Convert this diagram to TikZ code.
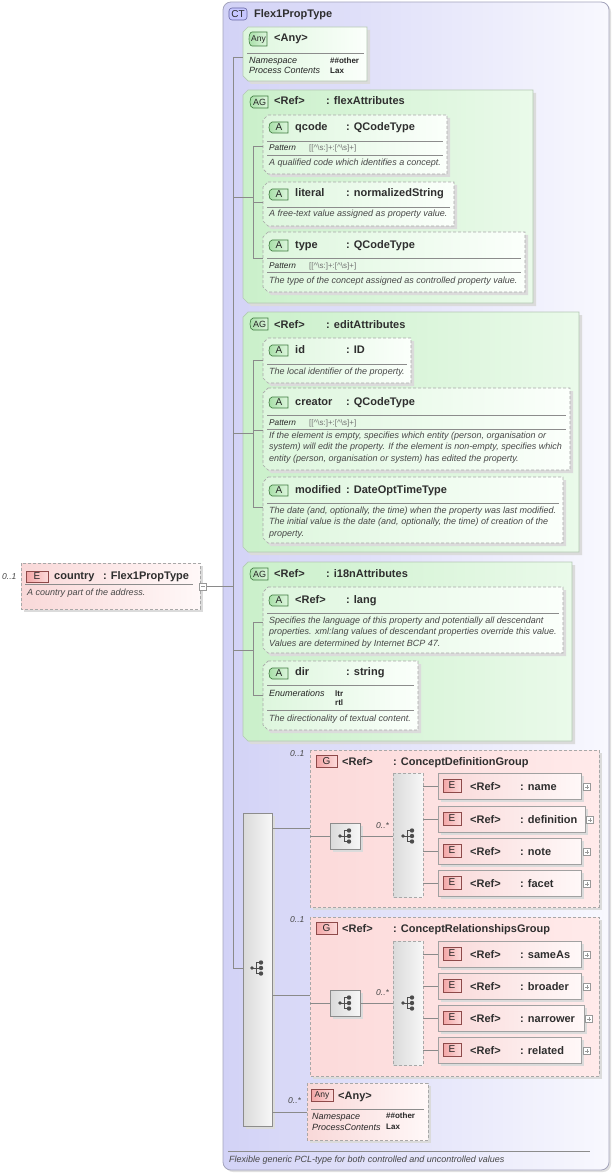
\documentclass[tikz,border=0pt]{standalone}
\usepackage{fontspec}
\setmainfont{Liberation Sans}
\definecolor{ctL}{HTML}{D2D2F6}
\definecolor{ctR}{HTML}{F8F8FE}
\definecolor{ctB}{HTML}{A4A4BC}
\definecolor{agL}{HTML}{CAF0CA}
\definecolor{agR}{HTML}{EAFAEA}
\definecolor{agB}{HTML}{B4C8B4}
\definecolor{atL}{HTML}{DDF6DD}
\definecolor{atR}{HTML}{FBFFFB}
\definecolor{dashB}{HTML}{A8A8A8}
\definecolor{grL}{HTML}{FCDADA}
\definecolor{grR}{HTML}{FFEAEA}
\definecolor{elL}{HTML}{F9D8D8}
\definecolor{elR}{HTML}{FFF8F8}
\definecolor{bdE}{HTML}{F3A6A6}
\definecolor{bdE2}{HTML}{FCDADA}
\definecolor{bdEB}{HTML}{8E4A4A}
\definecolor{bdA}{HTML}{A6DEA6}
\definecolor{bdA2}{HTML}{DDF6DD}
\definecolor{bdAB}{HTML}{3E7A3E}
\definecolor{sqL}{HTML}{DADADA}
\definecolor{sqR}{HTML}{F7F7F7}
\definecolor{lineC}{HTML}{8A8A8A}
\newcounter{tc}
\newcommand\tx[4]{\stepcounter{tc}\edef\tn{tx\arabic{tc}}\node[#1] (\tn) at (#2,#3) {#4};}
\newcommand\chamf[6]{%
 \fill[shd] (#2+8,#3+3) -- (#4+3,#3+3) -- (#4+3,#5+3) -- (#2+8,#5+3) -- (#2+3,#5-2) -- (#2+3,#3+8) -- cycle;
 \path[#6] (#2+5,#3) -- (#4,#3) -- (#4,#5) -- (#2+5,#5) -- (#2,#5-5) -- (#2,#3+5) -- cycle;
 \coordinate (#1) at (#2,#3);}
\newcommand\rbox[6]{%
 \fill[shd] (#2+3,#3+3) rectangle (#4+3,#5+3);
 \path[#6] (#2,#3) rectangle (#4,#5);
 \coordinate (#1) at (#2,#3);}
\newcommand\tabbadge[7]{%
 \path[#6] (#2+4,#3) -- (#4,#3) -- (#4,#5) -- (#2+4,#5) .. controls (#2,#5) and (#2,#3) .. (#2+4,#3) -- cycle;
 \node[bdg] (#1) at ({(#2+#4)/2+1},{(#3+#5)/2}) {#7};}
\newcommand\rectbadge[7]{%
 \path[#6] (#2,#3) rectangle (#4,#5);
 \node[bdg] (#1) at ({(#2+#4)/2},{(#3+#5)/2}) {#7};}
\newcommand\seqicon[3]{%
 \coordinate (#1) at (#2,#3);
 \draw[icon] (#2-6,#3) -- (#2-2,#3) (#2-2,#3-5.5) -- (#2-2,#3+5.5) (#2-2,#3-5.5) -- (#2+3,#3-5.5) (#2-2,#3) -- (#2+3,#3) (#2-2,#3+5.5) -- (#2+3,#3+5.5);
 \fill[icon] (#2-6,#3) circle (1.9) (#2+3,#3-5.5) circle (2.2) (#2+3,#3) circle (2.2) (#2+3,#3+5.5) circle (2.2);}
\newcommand\plusbox[3]{%
 \draw[pb, fill=white] (#2-3.5,#3-3.5) rectangle (#2+3.5,#3+3.5);
 \draw[pb] (#2-2,#3) -- (#2+2,#3) (#2,#3-2) -- (#2,#3+2);
 \coordinate (#1) at (#2,#3);}
% element box: name, y1, x2, label, plus x
\newcommand\elem[5]{%
 \rbox{#1}{438}{#2}{#3}{#2+26}{draw=lineC!80, line width=0.7pt, left color=elL, right color=elR}
 \rectbadge{#1b}{443}{#2+6}{461}{#2+19}{ebdg}{E}
 \tx{ttl}{470}{#2+17}{<Ref>}
 \tx{ttl}{520}{#2+17}{#4}
 \plusbox{#1p}{#5}{#2+14}}
\newcommand\attrbadge[3]{\tabbadge{#1}{268}{#2}{288}{#2+11}{abdg}{#3}}
\newcommand\pt{[[\textasciicircum\textbackslash s:]+:[\textasciicircum\textbackslash s]+]}
\begin{document}
\begin{tikzpicture}[x=1pt,y=-1pt,
 ttl/.style={font=\fontsize{11}{13}\selectfont\bfseries, text=black!82, anchor=base west, inner sep=0pt},
 dsc/.style={font=\fontsize{9}{11}\selectfont\itshape, text=black!72, anchor=base west, inner sep=0pt},
 lbl/.style={font=\fontsize{9}{11}\selectfont\itshape, text=black!85, anchor=base west, inner sep=0pt},
 plbl/.style={font=\fontsize{8.3}{10}\selectfont\itshape, text=black!85, anchor=base west, inner sep=0pt},
 val/.style={font=\fontsize{8}{10}\selectfont\bfseries, text=black!85, anchor=base west, inner sep=0pt},
 pat/.style={font=\fontsize{8}{10}\selectfont, text=black!55, anchor=base west, inner sep=0pt},
 mult/.style={font=\fontsize{8.5}{10}\selectfont\itshape, text=black!72, anchor=base west, inner sep=0pt},
 bdg/.style={font=\fontsize{10}{12}\selectfont, text=black!85, inner sep=0pt, anchor=center},
 conn/.style={draw=lineC, line width=0.7pt},
 sepl/.style={draw=black!45, line width=0.6pt},
 shd/.style={black!14},
 icon/.style={black!70, line width=0.8pt},
 pb/.style={draw=black!40, line width=0.5pt},
 dsh/.style={dash pattern=on 3pt off 2pt},
 agbox/.style={draw=agB, line width=0.7pt, left color=agL, right color=agR},
 atbox/.style={draw=dashB, line width=0.7pt, dsh, left color=atL, right color=atR},
 ebdg/.style={draw=bdEB, line width=0.6pt, left color=bdE, right color=bdE2},
 abdg/.style={draw=bdAB, line width=0.6pt, left color=bdA, right color=bdA2},
 seqbox/.style={draw=black!45, line width=0.7pt, left color=sqL, right color=sqR},
]
\useasboundingbox (0,0) rectangle (614,1174);
% ---------- complex type frame
\fill[black!12, rounded corners=8] (225,4) rectangle (611,1172);
\path[draw=ctB, line width=0.8pt, rounded corners=8, left color=ctL, right color=ctR] (223,2) rectangle (609,1170);
\coordinate (ct) at (223,2);
\path[draw=black!60!blue!60, line width=0.6pt, fill=blue!22, rounded corners=3] (229,8) rectangle (247,20);
\node[bdg] (ctb) at (238,14) {CT};
\tx{ttl}{254}{18}{Flex1PropType}
% ---------- connectors (trunk)
\coordinate (tr0) at (233,57);
\coordinate (tr1) at (233,968);
\draw[conn] (tr0) -- (tr1);
% ---------- Any (green)
\chamf{anyg}{243}{27}{367}{81}{draw=agB, line width=0.7pt, left color=atL, right color=atR}
\tabbadge{anygb}{248}{32}{267}{46}{abdg}{\fontsize{8.5}{10}\selectfont Any}
\tx{ttl}{274}{42}{<Any>}
\draw[sepl] (247,53) -- (364,53);
\tx{lbl}{249}{64}{Namespace}
\tx{val}{330}{64}{\#\#other}
\tx{lbl}{249}{74}{Process Contents}
\tx{val}{330}{74}{Lax}
\coordinate (anyg-in) at (243,57);
\draw[conn] (tr0) -- (anyg-in);
% ---------- AG flexAttributes
\chamf{agf}{243}{90}{533}{303}{agbox}
\tabbadge{agfb}{249}{96}{268}{108}{abdg}{\fontsize{9}{10}\selectfont AG}
\tx{ttl}{274}{105}{<Ref>}
\tx{ttl}{326}{105}{: flexAttributes}
\chamf{qc}{263}{115}{447}{174}{atbox}
\attrbadge{qcb}{122}{A}
\tx{ttl}{295}{131}{qcode}
\tx{ttl}{346}{131}{: QCodeType}
\draw[sepl] (267,141) -- (443,141);
\tx{plbl}{269}{151}{Pattern}
\tx{pat}{309}{151}{\pt}
\draw[sepl] (267,155) -- (443,155);
\tx{dsc}{269}{166}{A qualified code which identifies a concept.}
\chamf{lit}{263}{182}{454}{226}{atbox}
\attrbadge{litb}{189}{A}
\tx{ttl}{295}{197}{literal}
\tx{ttl}{346}{197}{: normalizedString}
\draw[sepl] (267,207) -- (450,207);
\tx{dsc}{269}{217}{A free-text value assigned as property value.}
\chamf{typ}{263}{232}{525}{292}{atbox}
\attrbadge{typb}{240}{A}
\tx{ttl}{295}{248}{type}
\tx{ttl}{346}{248}{: QCodeType}
\draw[sepl] (267,258) -- (521,258);
\tx{plbl}{269}{268}{Pattern}
\tx{pat}{309}{268}{\pt}
\draw[sepl] (267,272) -- (521,272);
\tx{dsc}{269}{283}{The type of the concept assigned as controlled property value.}
\coordinate (agf-a) at (233,197); \coordinate (agf-t) at (253,197);
\coordinate (agf-t0) at (253,146); \coordinate (agf-t1) at (253,258);
\draw[conn] (agf-a) -- (agf-t);
\draw[conn] (agf-t0) -- (agf-t1);
\draw[conn] (agf-t0) -- (qc |- agf-t0);
\draw[conn] (253,202) -- (lit |- 0,202);
\draw[conn] (agf-t1) -- (typ |- agf-t1);
% ---------- AG editAttributes
\chamf{age}{243}{312}{579}{552}{agbox}
\tabbadge{ageb}{249}{318}{268}{330}{abdg}{\fontsize{9}{10}\selectfont AG}
\tx{ttl}{274}{328}{<Ref>}
\tx{ttl}{326}{328}{: editAttributes}
\chamf{idb}{263}{338}{411}{383}{atbox}
\attrbadge{idbb}{345}{A}
\tx{ttl}{295}{353}{id}
\tx{ttl}{346}{353}{: ID}
\draw[sepl] (267,364) -- (407,364);
\tx{dsc}{269}{374}{The local identifier of the property.}
\chamf{cre}{263}{388}{570}{470}{atbox}
\attrbadge{creb}{397}{A}
\tx{ttl}{295}{405}{creator}
\tx{ttl}{346}{405}{: QCodeType}
\draw[sepl] (267,415) -- (566,415);
\tx{plbl}{269}{425}{Pattern}
\tx{pat}{309}{425}{\pt}
\draw[sepl] (267,429) -- (566,429);
\tx{dsc}{269}{438}{If the element is empty, specifies which entity (person, organisation or}
\tx{dsc}{269}{449.5}{system) will edit the property. If the element is non-empty, specifies which}
\tx{dsc}{269}{461}{entity (person, organisation or system) has edited the property.}
\chamf{mod}{263}{477}{563}{543}{atbox}
\attrbadge{modb}{485}{A}
\tx{ttl}{295}{493}{modified}
\tx{ttl}{346}{493}{: DateOptTimeType}
\draw[sepl] (267,503) -- (559,503);
\tx{dsc}{269}{513}{The date (and, optionally, the time) when the property was last modified.}
\tx{dsc}{269}{524.5}{The initial value is the date (and, optionally, the time) of creation of the}
\tx{dsc}{269}{536}{property.}
\coordinate (age-a) at (233,433); \coordinate (age-t) at (253,433);
\coordinate (age-t0) at (253,360); \coordinate (age-t1) at (253,507);
\draw[conn] (age-a) -- (age-t);
\draw[conn] (age-t0) -- (age-t1);
\draw[conn] (age-t0) -- (idb |- age-t0);
\draw[conn] (253,430) -- (cre |- 0,430);
\draw[conn] (age-t1) -- (mod |- age-t1);
% ---------- AG i18nAttributes
\chamf{agi}{243}{562}{572}{741}{agbox}
\tabbadge{agib}{249}{568}{268}{580}{abdg}{\fontsize{9}{10}\selectfont AG}
\tx{ttl}{274}{577}{<Ref>}
\tx{ttl}{326}{577}{: i18nAttributes}
\chamf{lng}{263}{587}{563}{653}{atbox}
\attrbadge{lngb}{595}{A}
\tx{ttl}{295}{603}{<Ref>}
\tx{ttl}{346}{603}{: lang}
\draw[sepl] (267,613) -- (559,613);
\tx{dsc}{269}{623}{Specifies the language of this property and potentially all descendant}
\tx{dsc}{269}{634.5}{properties. xml:lang values of descendant properties override this value.}
\tx{dsc}{269}{646}{Values are determined by Internet BCP 47.}
\chamf{dir}{263}{661}{418}{730}{atbox}
\attrbadge{dirb}{668}{A}
\tx{ttl}{295}{675}{dir}
\tx{ttl}{346}{675}{: string}
\draw[sepl] (267,685) -- (414,685);
\tx{lbl}{269}{696}{Enumerations}
\tx{val}{335}{696}{ltr}
\tx{val}{335}{705.5}{rtl}
\draw[sepl] (267,710) -- (414,710);
\tx{dsc}{269}{721}{The directionality of textual content.}
\coordinate (agi-a) at (233,650); \coordinate (agi-t) at (253,650);
\coordinate (agi-t0) at (253,622); \coordinate (agi-t1) at (253,695);
\draw[conn] (agi-a) -- (agi-t);
\draw[conn] (agi-t0) -- (agi-t1);
\draw[conn] (agi-t0) -- (lng |- agi-t0);
\draw[conn] (agi-t1) -- (dir |- agi-t1);
% ---------- country element
\rbox{ctry}{21}{563}{200}{609}{draw=dashB, line width=0.7pt, dsh, left color=elL, right color=elR}
\tx{mult}{2}{579}{0..1}
\rectbadge{ctryb}{26}{571}{48}{582}{ebdg}{E}
\tx{ttl}{54}{579}{country}
\tx{ttl}{103}{579}{: Flex1PropType}
\draw[sepl] (25,584) -- (193,584);
\tx{dsc}{27}{595}{A country part of the address.}
\draw[pb, fill=white] (199.5,583) rectangle (206.5,590);
\draw[pb] (201,586.5) -- (205,586.5);
\coordinate (ctry-m) at (206.5,586.5);
\coordinate (tr-c) at (233,586.5);
\draw[conn] (ctry-m) -- (tr-c);
% ---------- sequence box
\rbox{seq}{243}{813}{272}{1126}{seqbox}
\seqicon{seqi}{258}{968}
\coordinate (seq-in) at (243,968);
\draw[conn] (tr1) -- (seq-in);
% ---------- group 1
\rbox{g1}{310}{750}{599}{907}{draw=dashB, line width=0.7pt, dsh, left color=grL, right color=grR}
\tx{mult}{290}{756}{0..1}
\rectbadge{g1b}{316}{755}{337}{767}{ebdg}{G}
\tx{ttl}{342}{765}{<Ref>}
\tx{ttl}{393}{765}{: ConceptDefinitionGroup}
\draw[conn] (272,828) -- (g1 |- 0,828);
\rbox{g1s}{330}{823}{360}{849}{seqbox}
\seqicon{g1si}{346}{836}
\draw[conn] (g1 |- 0,836) -- (g1s |- 0,836);
\path[draw=dashB, line width=0.7pt, dsh, left color=sqL, right color=sqR] (393,773) rectangle (423,897);
\coordinate (g1c) at (393,773);
\seqicon{g1ci}{409}{836}
\draw[conn] (360,836) -- (g1c |- 0,836);
\tx{mult}{376}{828}{0..*}
\elem{e1}{773}{581}{: name}{587}
\elem{e2}{806}{585}{: definition}{590}
\elem{e3}{838}{581}{: note}{587}
\elem{e4}{870}{581}{: facet}{587}
\foreach \c/\e in {786/e1,819/e2,851/e3,883/e4}{\draw[conn] (423,\c) -- (\e |- 0,\c);}
% ---------- group 2
\rbox{g2}{310}{917}{599}{1076}{draw=dashB, line width=0.7pt, dsh, left color=grL, right color=grR}
\tx{mult}{290}{922}{0..1}
\rectbadge{g2b}{316}{922}{337}{934}{ebdg}{G}
\tx{ttl}{342}{932}{<Ref>}
\tx{ttl}{393}{932}{: ConceptRelationshipsGroup}
\draw[conn] (272,995) -- (g2 |- 0,995);
\rbox{g2s}{330}{990}{360}{1016}{seqbox}
\seqicon{g2si}{346}{1003}
\draw[conn] (g2 |- 0,1003) -- (g2s |- 0,1003);
\path[draw=dashB, line width=0.7pt, dsh, left color=sqL, right color=sqR] (393,941) rectangle (423,1065);
\coordinate (g2c) at (393,941);
\seqicon{g2ci}{409}{1003}
\draw[conn] (360,1003) -- (g2c |- 0,1003);
\tx{mult}{376}{995}{0..*}
\elem{e5}{941}{581}{: sameAs}{587}
\elem{e6}{973}{581}{: broader}{587}
\elem{e7}{1005}{584}{: narrower}{589}
\elem{e8}{1037}{581}{: related}{587}
\foreach \c/\e in {954/e5,986/e6,1018/e7,1050/e8}{\draw[conn] (423,\c) -- (\e |- 0,\c);}
% ---------- Any (pink)
\rbox{anyp}{307}{1083}{428}{1140}{draw=dashB, line width=0.7pt, dsh, left color=elL, right color=elR}
\tx{mult}{288}{1103}{0..*}
\rectbadge{anypb}{311}{1089}{333}{1101}{ebdg}{\fontsize{8.5}{10}\selectfont Any}
\tx{ttl}{338}{1099}{<Any>}
\draw[sepl] (311,1109) -- (424,1109);
\tx{lbl}{312}{1119}{Namespace}
\tx{val}{386}{1118}{\#\#other}
\tx{lbl}{312}{1130}{ProcessContents}
\tx{val}{386}{1129}{Lax}
\draw[conn] (272,1112) -- (anyp |- 0,1112);
% ---------- footer
\draw[sepl] (228,1151) -- (590,1151);
\tx{dsc}{229}{1162}{Flexible generic PCL-type for both controlled and uncontrolled values}
\end{tikzpicture}
\end{document}
